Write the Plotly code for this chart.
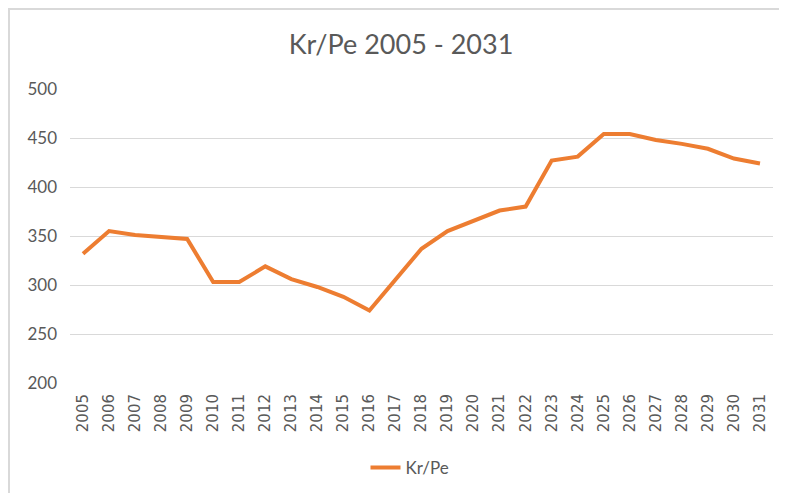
import plotly.graph_objects as go

years = [str(y) for y in range(2005, 2032)]
values = [332, 355, 351, 349, 347, 303, 303, 319, 306, 298, 288, 274, 305, 337,
          355, 366, 376, 380, 427, 431, 454, 454, 448, 444, 439, 429, 424]
series_name = "Kr/Pe"
title_text = "Kr/Pe 2005 - 2031"
y_ticks = [200, 250, 300, 350, 400, 450, 500]

# page is rendered with an 8px body margin; work in figure coordinates
OFF = 8
W, H = 787 - OFF, 493 - OFF
L, T = 70 - OFF, 89 - OFF
R = W - (773 - OFF)
B = H - (383 - OFF)
pw, ph = W - L - R, H - T - B

# chart frame: only top and left edges are visible in the reference
fx0 = (9 - 70) / pw
fx1 = (787 + 40 - 70) / pw
fy0 = (383 - (493 + 40)) / ph
fy1 = (383 - 9) / ph
frame_path = f"M {fx0},{fy0} L {fx0},{fy1} L {fx1},{fy1}"

fig = go.Figure()
fig.add_trace(go.Scatter(
    x=years, y=values, mode="lines", name=series_name,
    line=dict(color="#ED7D31", width=4),
    showlegend=True,
))

fig.update_layout(
    width=W, height=H,
    margin=dict(l=L, r=R, t=T, b=B, autoexpand=False),
    paper_bgcolor="white", plot_bgcolor="white",
    title=dict(text=title_text, x=(401 - OFF) / W, xref="container", xanchor="center",
               y=1 - (45 - OFF) / H, yanchor="middle",
               font=dict(family="Lato", size=27, color="#595959")),
    showlegend=True,
    legend=dict(orientation="h", x=(410 - 70) / pw, xanchor="center",
                y=(383 - 468) / ph, yanchor="middle",
                font=dict(family="Lato", size=17, color="#595959"),
                bgcolor="rgba(0,0,0,0)"),
    xaxis=dict(type="category", range=[-0.5, len(years) - 0.5],
               showgrid=False, zeroline=False, showline=False,
               tickangle=-90, ticks="", automargin=False,
               ticklabelstandoff=7,
               tickfont=dict(family="DejaVu Sans", size=15, color="#595959")),
    yaxis=dict(range=[200, 500], tickvals=y_ticks, automargin=False,
               showgrid=True, gridcolor="#d9d9d9", gridwidth=1,
               zeroline=False, showline=False, ticks="",
               ticklabelstandoff=12,
               tickfont=dict(family="Lato", size=17, color="#595959")),
    shapes=[dict(type="path", xref="paper", yref="paper", path=frame_path,
                 line=dict(color="#d9d9d9", width=2), layer="below")],
)

fig.write_html("out.html")
